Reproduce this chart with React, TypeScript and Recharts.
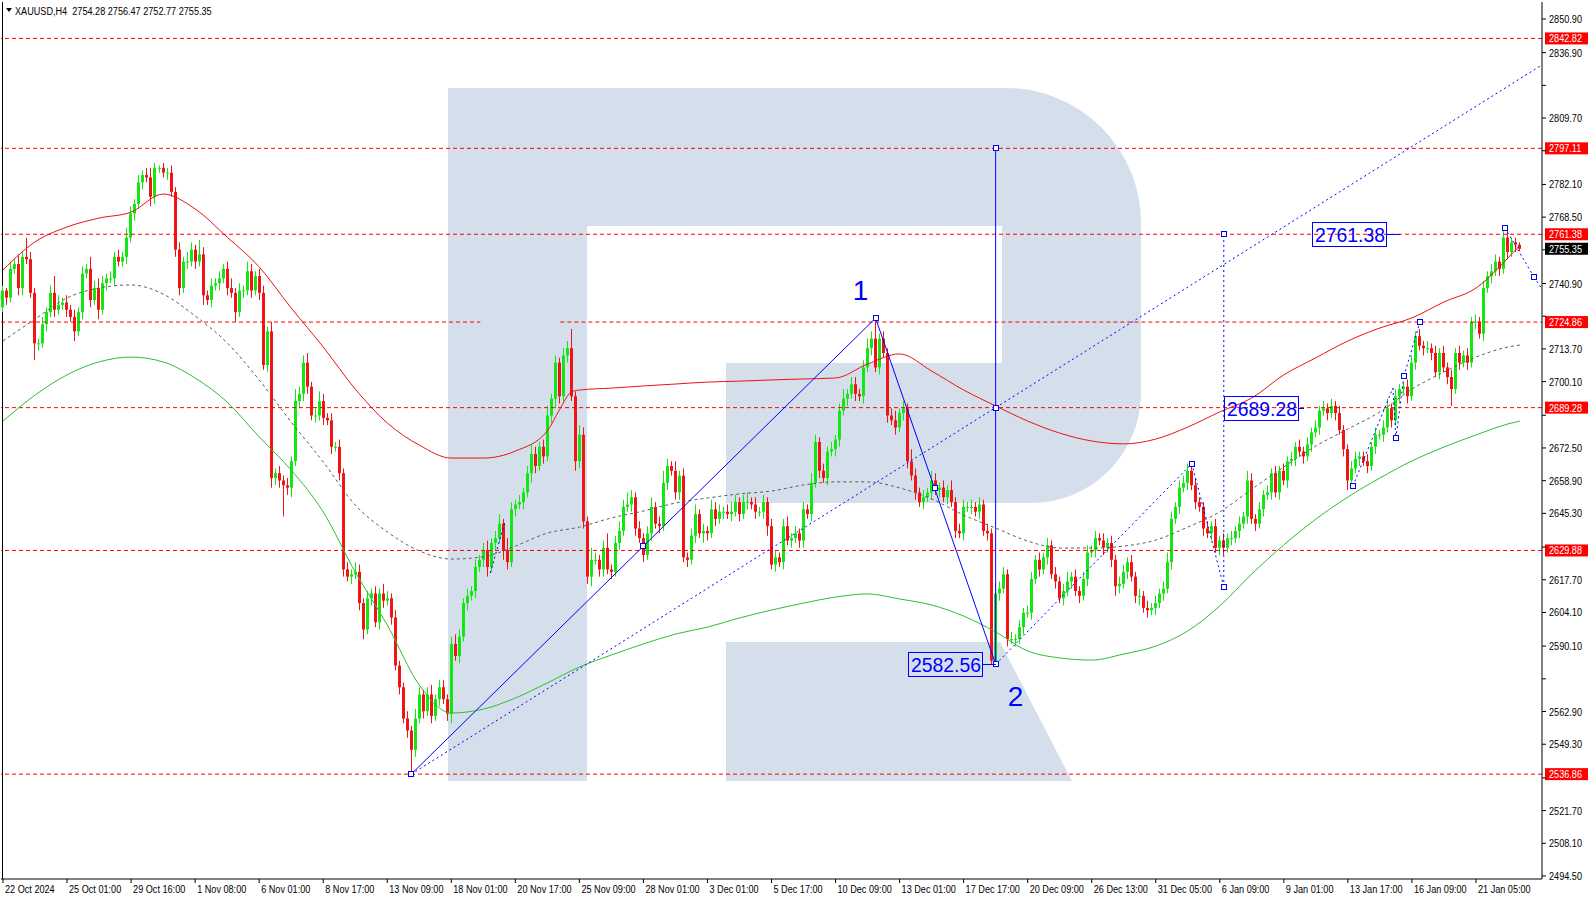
import React from 'react';
import { ComposedChart, Bar, Line, XAxis, YAxis, ReferenceLine, ReferenceDot } from 'recharts';

const FONT = "'Liberation Sans', Arial, sans-serif";
const SQUEEZE = 'scale(0.83,1)'; // the terminal font is narrower than Arial
const BLUE = '#0000ff';
const UP = '#14e614';
const DOWN = '#f01414';

// XAUUSD H4, 22 Oct 2024 .. 22 Jan 2025 — closes read candle by candle off the picture
const firstOpen = 2731;
const closes = [
  2738, 2735, 2747, 2749, 2739, 2752, 2751, 2737, 2716, 2716, 2724, 2729, 2737, 2730, 2732, 2733, 2730, 2727, 2721, 2729,
  2745, 2747, 2734, 2739, 2730, 2741, 2743, 2743, 2752, 2750, 2752, 2760, 2770, 2774, 2783, 2786, 2785, 2777, 2789, 2789,
  2787, 2787, 2779, 2755, 2739, 2750, 2750, 2755, 2750, 2753, 2736, 2734, 2740, 2741, 2743, 2747, 2739, 2737, 2729, 2738,
  2738, 2746, 2738, 2744, 2737, 2707, 2721, 2660, 2662, 2659, 2657, 2656, 2667, 2692, 2695, 2708, 2698, 2686, 2686, 2692,
  2685, 2684, 2673, 2673, 2662, 2622, 2619, 2620, 2621, 2608, 2597, 2610, 2612, 2600, 2612, 2609, 2610, 2602, 2582, 2573,
  2560, 2555, 2547, 2560, 2570, 2563, 2570, 2561, 2568, 2573, 2568, 2562, 2591, 2586, 2594, 2608, 2611, 2613, 2623, 2626,
  2630, 2623, 2633, 2635, 2641, 2630, 2625, 2647, 2649, 2650, 2654, 2662, 2670, 2665, 2673, 2669, 2686, 2693, 2708, 2694,
  2711, 2714, 2694, 2667, 2678, 2642, 2619, 2626, 2626, 2622, 2631, 2622, 2621, 2633, 2638, 2648, 2649, 2652, 2639, 2635,
  2628, 2637, 2648, 2641, 2640, 2658, 2665, 2663, 2654, 2661, 2627, 2626, 2636, 2645, 2637, 2638, 2637, 2647, 2643, 2646,
  2646, 2645, 2646, 2650, 2645, 2650, 2650, 2649, 2646, 2646, 2650, 2640, 2624, 2627, 2625, 2640, 2634, 2635, 2637, 2634,
  2647, 2645, 2658, 2675, 2663, 2660, 2671, 2672, 2676, 2688, 2693, 2695, 2699, 2695, 2694, 2706, 2714, 2718, 2706, 2718,
  2712, 2686, 2684, 2681, 2687, 2689, 2667, 2661, 2654, 2650, 2652, 2654, 2659, 2655, 2656, 2652, 2655, 2650, 2638, 2637,
  2648, 2648, 2648, 2646, 2649, 2638, 2637, 2584, 2612, 2614, 2620, 2593, 2593, 2593, 2598, 2604, 2604, 2618, 2626, 2622,
  2627, 2632, 2620, 2617, 2610, 2613, 2617, 2619, 2613, 2611, 2618, 2629, 2630, 2635, 2634, 2631, 2633, 2626, 2615, 2616,
  2621, 2625, 2619, 2611, 2611, 2606, 2605, 2606, 2608, 2612, 2614, 2625, 2643, 2648, 2656, 2658, 2663, 2657, 2650, 2648,
  2639, 2637, 2640, 2631, 2634, 2631, 2635, 2635, 2638, 2641, 2644, 2659, 2643, 2641, 2647, 2653, 2654, 2662, 2654, 2663,
  2659, 2667, 2668, 2673, 2671, 2669, 2674, 2679, 2681, 2688, 2689, 2687, 2690, 2687, 2680, 2672, 2659, 2664, 2668, 2669,
  2667, 2665, 2673, 2678, 2678, 2681, 2689, 2684, 2694, 2697, 2698, 2694, 2708, 2719, 2715, 2714, 2714, 2712, 2704, 2712,
  2706, 2702, 2697, 2712, 2708, 2711, 2708, 2725, 2725, 2720, 2739, 2744, 2746, 2750, 2747, 2760, 2754, 2758, 2757, 2755.35,
];
// wick lengths above / below the body, in dollars
const wickUp = [
  2, 1, 3, 2, 4, 2, 8, 3, 2, 2, 3, 2, 3, 7, 4, 2, 3, 2, 3, 2,
  3, 2, 5, 3, 4, 3, 2, 3, 2, 3, 2, 4, 3, 2, 3, 2, 3, 4, 2, 1,
  2, 2, 3, 2, 3, 2, 4, 3, 2, 6, 3, 2, 3, 2, 3, 2, 3, 4, 2, 3,
  2, 4, 3, 2, 3, 3, 2, 4, 2, 3, 2, 3, 2, 5, 3, 3, 4, 2, 3, 4,
  3, 2, 3, 2, 3, 2, 3, 2, 4, 3, 2, 3, 2, 3, 2, 4, 3, 2, 3, 2,
  2, 3, 2, 4, 3, 2, 3, 4, 2, 3, 3, 2, 3, 4, 3, 2, 3, 2, 3, 2,
  3, 4, 2, 3, 4, 2, 5, 3, 2, 3, 2, 3, 4, 3, 2, 3, 4, 2, 3, 2,
  3, 3, 8, 2, 4, 3, 2, 5, 3, 2, 3, 6, 2, 3, 4, 3, 5, 3, 2, 3,
  2, 3, 4, 2, 3, 5, 3, 2, 4, 2, 3, 2, 3, 4, 2, 3, 2, 4, 3, 3,
  2, 3, 4, 3, 2, 3, 4, 2, 3, 2, 3, 2, 3, 3, 2, 3, 4, 2, 3, 2,
  3, 2, 4, 3, 2, 3, 2, 3, 2, 3, 4, 2, 3, 3, 2, 3, 4, 3, 8, 2,
  3, 2, 3, 4, 2, 3, 2, 5, 3, 2, 3, 2, 4, 3, 2, 3, 2, 4, 2, 3,
  3, 2, 3, 2, 3, 2, 3, 2, 4, 3, 3, 2, 3, 2, 3, 2, 3, 3, 2, 3,
  2, 3, 2, 3, 2, 3, 4, 2, 3, 2, 3, 3, 2, 3, 2, 3, 2, 3, 2, 3,
  3, 2, 3, 2, 3, 2, 3, 2, 3, 2, 3, 4, 3, 2, 3, 3, 3, 2, 3, 2,
  2, 3, 2, 3, 2, 3, 2, 3, 2, 3, 2, 4, 3, 2, 3, 2, 3, 2, 3, 2,
  3, 2, 3, 2, 3, 2, 3, 2, 3, 2, 3, 2, 3, 2, 3, 2, 2, 3, 3, 2,
  2, 3, 2, 3, 2, 3, 4, 2, 3, 2, 2, 3, 3, 2, 3, 2, 3, 2, 3, 2,
  3, 2, 3, 2, 3, 2, 3, 2, 3, 2, 3, 2, 3, 3, 2, 4, 3, 2, 2, 1,
];
const wickDown = [
  2, 3, 2, 2, 3, 3, 2, 2, 7, 3, 2, 3, 2, 3, 2, 2, 3, 2, 4, 2,
  3, 2, 3, 2, 4, 2, 3, 2, 3, 2, 2, 3, 2, 3, 2, 3, 2, 4, 3, 2,
  2, 3, 2, 3, 3, 2, 3, 2, 3, 2, 4, 2, 3, 2, 3, 2, 3, 2, 4, 2,
  3, 2, 3, 2, 3, 2, 3, 4, 3, 3, 13, 3, 4, 2, 3, 3, 3, 2, 3, 2,
  3, 2, 3, 2, 3, 3, 2, 3, 2, 3, 4, 2, 3, 2, 3, 3, 2, 3, 2, 3,
  2, 3, 10, 3, 2, 3, 2, 3, 2, 3, 2, 3, 4, 2, 3, 2, 3, 2, 3, 2,
  3, 4, 2, 3, 2, 4, 3, 2, 3, 2, 3, 2, 4, 3, 2, 3, 2, 3, 4, 3,
  2, 3, 2, 4, 3, 3, 3, 4, 2, 3, 3, 2, 3, 2, 3, 2, 2, 3, 3, 2,
  3, 2, 3, 2, 3, 2, 3, 2, 3, 3, 2, 3, 2, 3, 2, 4, 3, 2, 3, 2,
  3, 2, 3, 2, 3, 2, 3, 2, 3, 2, 3, 4, 2, 3, 2, 3, 2, 3, 2, 3,
  3, 2, 3, 2, 3, 2, 3, 2, 3, 3, 2, 3, 2, 3, 2, 3, 2, 3, 2, 3,
  2, 3, 2, 3, 2, 3, 3, 2, 3, 2, 3, 2, 3, 2, 3, 2, 3, 2, 3, 2,
  3, 2, 3, 2, 3, 2, 3, 1.5, 2, 3, 2, 3, 2, 3, 2, 3, 2, 3, 2, 3,
  2, 3, 2, 3, 2, 3, 2, 3, 2, 3, 2, 3, 2, 3, 2, 3, 2, 3, 4, 3,
  2, 3, 2, 3, 4, 2, 3, 2, 3, 2, 3, 2, 3, 2, 3, 2, 3, 2, 3, 2,
  3, 2, 3, 2, 3, 3, 2, 3, 2, 3, 2, 3, 2, 3, 2, 3, 2, 3, 2, 3,
  2, 3, 2, 3, 2, 3, 2, 3, 2, 3, 2, 3, 2, 3, 2, 3, 4, 3, 2, 3,
  2, 3, 2, 3, 2, 3, 2, 3, 2, 3, 2, 3, 2, 3, 2, 3, 2, 3, 2, 3,
  2, 3, 7, 2, 3, 2, 3, 2, 3, 2, 3, 2, 3, 2, 3, 2, 3, 2, 3, 1,
];

// moving averages, sampled every 8 candles
const maIdx = [0, 8, 16, 24, 32, 40, 48, 56, 64, 72, 80, 88, 96, 104, 112, 120, 128, 136, 144, 152, 160, 168, 176, 184, 192,
  200, 208, 216, 224, 232, 240, 248, 256, 264, 272, 280, 288, 296, 304, 312, 320, 328, 336, 344, 352, 360, 368, 376, 379];
const grayMA = [2717.0, 2726.1, 2734.9, 2739.0, 2740.3, 2736.5, 2727.4, 2716.2, 2700.8, 2683.3, 2666.7, 2648.8, 2637.6,
  2629.7, 2626.3, 2627.2, 2631.7, 2637.1, 2639.6, 2643.4, 2646.3, 2649.6, 2651.7, 2653.4, 2654.6, 2657.1, 2658.4, 2658.4,
  2655.9, 2651.3, 2644.6, 2639.2, 2633.8, 2630.9, 2630.9, 2631.7, 2634.2, 2639.6, 2645.9, 2655.4, 2664.6, 2673.3, 2680.4,
  2687.5, 2697.0, 2704.1, 2710.3, 2714.5, 2715.3];
const greenMA = [2683.7, 2694.5, 2702.9, 2708.3, 2710.3, 2708.3, 2701.6, 2691.6, 2677.1, 2663.3, 2645.9, 2620.9, 2598.9,
  2573.9, 2562.3, 2563.9, 2568.5, 2574.8, 2581.4, 2586.4, 2591.0, 2595.1, 2598.0, 2601.8, 2605.1, 2608.0, 2610.5, 2611.8,
  2609.7, 2607.2, 2602.6, 2596.0, 2588.1, 2585.2, 2584.3, 2586.8, 2590.1, 2596.4, 2606.8, 2620.1, 2632.2, 2642.9, 2652.1,
  2660.0, 2667.1, 2672.9, 2677.9, 2682.5, 2683.7];
const redIdx = [0, 8, 16, 24, 32, 40, 48, 56, 64, 72, 80, 88, 96, 104, 112, 120, 128, 136, 139, 142, 144, 152, 160, 168, 176,
  184, 192, 200, 208, 216, 224, 232, 240, 248, 256, 264, 272, 280, 288, 296, 304, 312, 320, 328, 336, 344, 352, 360, 368, 376, 379];
const redMA = [2746.5, 2758.2, 2764.4, 2768.1, 2770.6, 2778.1, 2771.9, 2760.2, 2747.8, 2730.7, 2714.5, 2697.0, 2682.9,
  2673.7, 2668.3, 2668.3, 2671.2, 2679.6, 2688.3, 2695.8, 2696.6, 2697.4, 2698.3, 2699.1, 2699.9, 2700.3, 2700.8, 2701.2,
  2701.6, 2707.4, 2711.6, 2704.5, 2696.6, 2690.0, 2683.7, 2678.7, 2675.4, 2674.2, 2676.2, 2681.2, 2687.5, 2693.3, 2702.9,
  2710.0, 2717.0, 2722.4, 2726.6, 2733.2, 2739.0, 2751.5, 2756.9];

const dateLabels = ['22 Oct 2024', '25 Oct 01:00', '29 Oct 16:00', '1 Nov 08:00', '6 Nov 01:00', '8 Nov 17:00',
  '13 Nov 09:00', '18 Nov 01:00', '20 Nov 17:00', '25 Nov 09:00', '28 Nov 01:00', '3 Dec 01:00', '5 Dec 17:00',
  '10 Dec 09:00', '13 Dec 01:00', '17 Dec 17:00', '20 Dec 09:00', '26 Dec 13:00', '31 Dec 05:00', '6 Jan 09:00',
  '9 Jan 01:00', '13 Jan 17:00', '16 Jan 09:00', '21 Jan 05:00'];
const LABEL_STEP = 16;
const xTicks = dateLabels.map((_, k) => k * LABEL_STEP);

const yTicks = [2494.5, 2508.1, 2521.7, 2535.3, 2549.3, 2562.9, 2576.5, 2590.1, 2604.1, 2617.7, 2631.3, 2645.3, 2658.9,
  2672.5, 2686.1, 2700.1, 2713.7, 2727.3, 2740.9, 2754.9, 2768.5, 2782.1, 2796.1, 2809.7, 2823.3, 2836.9, 2850.9];
const coveredTicks = [2535.3, 2576.5, 2631.3, 2686.1, 2727.3, 2754.9, 2796.1, 2823.3];

const levels = [2842.82, 2797.11, 2761.38, 2689.28, 2629.88, 2536.86];
const splitLevel = 2724.86;
const lastPrice = 2755.35;

// wave markup (candle index, price)
const waveSolid: number[][] = [[102, 2536.86], [218, 2726.5], [248, 2582.56], [248, 2797.11]];
const trendDotted: number[][] = [[102, 2536.86], [384.5, 2831.8]];
const zigzag1: number[][] = [[248, 2582.56], [297, 2666], [305, 2614.7], [305, 2761.38]];
const zigzag2: number[][] = [[337.25, 2656.7], [347.25, 2697.4], [348, 2676.6], [350, 2702.4], [354, 2724.86]];
const zigzag3: number[][] = [[375.25, 2764], [382.5, 2743.6], [384.5, 2738.6]];
const smallDash: number[][] = [[121.75, 2620.5], [125.5, 2642.5]];
const markers: number[][] = [[102, 2536.86], [218, 2726.5], [248, 2582.56], [248, 2797.11], [248, 2689.28],
  [160, 2631.7], [232.75, 2655.7], [297, 2666], [305, 2614.7], [305, 2761.38], [337.25, 2656.7], [348, 2676.6],
  [350, 2702.4], [354, 2724.86], [375.25, 2764], [382.5, 2743.6]];
const priceBoxes = [
  { text: '2582.56', i: 248, p: 2582.56, side: 'left' },
  { text: '2761.38', i: 349, p: 2761.38, side: 'left' },
  { text: '2689.28', i: 305, p: 2689.28, side: 'right' },
];
const waveNames = [
  { text: '1', i: 218, p: 2726.5, dx: -15, dy: -18 },
  { text: '2', i: 248, p: 2582.56, dx: 20, dy: 42 },
];

const TOTAL_SLOTS = 385;
const rows: any[] = Array.from({ length: TOTAL_SLOTS }, (_, i) => {
  const row: any = { i };
  if (i < closes.length) {
    const open = i === 0 ? firstOpen : closes[i - 1];
    const close = closes[i];
    const high = Math.max(open, close) + wickUp[i];
    const low = Math.min(open, close) - wickDown[i];
    Object.assign(row, { open, close, high, low, range: [low, high] });
  }
  return row;
});
maIdx.forEach((idx, k) => { rows[idx].gray = grayMA[k]; rows[idx].green = greenMA[k]; });
redIdx.forEach((idx, k) => { rows[idx].red = redMA[k]; });

const Candle = (props: any) => {
  const { x, y, width, height, payload } = props;
  if (!payload || payload.high == null || height == null) return null;
  const top = Math.min(y, y + height);
  const h = Math.abs(height);
  const k = h / (payload.high - payload.low);
  const py = (v: number) => top + (payload.high - v) * k;
  const cx = Math.floor(x + width / 2);
  const color = payload.close >= payload.open ? UP : DOWN;
  const y1 = py(Math.max(payload.open, payload.close));
  const y2 = py(Math.min(payload.open, payload.close));
  return (
    <g>
      <line x1={cx + 0.5} x2={cx + 0.5} y1={top} y2={top + h} stroke={color} strokeWidth={1} />
      <rect x={cx - 1} y={y1} width={3} height={Math.max(1, y2 - y1)} fill={color} />
    </g>
  );
};

const SmallText = ({ x, y, fill = '#000', children }: any) => (
  <text transform={`translate(${x},${y}) ${SQUEEZE}`} fontSize={11} fontFamily={FONT} fill={fill}
    style={{ whiteSpace: 'pre' }}>
    {children}
  </text>
);

const XTick = ({ x, y, payload }: any) => (
  <SmallText x={x + 2} y={y + 8}>{dateLabels[Math.round(payload.value / LABEL_STEP)]}</SmallText>
);

const YTick = ({ x, y, payload }: any) => {
  if (coveredTicks.includes(payload.value)) return null;
  return <SmallText x={x} y={y + 4}>{payload.value.toFixed(2)}</SmallText>;
};

const PriceTag = ({ viewBox, value, fill }: any) => {
  if (!viewBox) return null;
  const x = viewBox.x + viewBox.width;
  const y = viewBox.y;
  return (
    <g>
      <rect x={x + 3} y={y - 6} width={43} height={12} fill={fill} />
      <SmallText x={x + 7} y={y + 4} fill="#fff">{value}</SmallText>
    </g>
  );
};

const Square = ({ cx, cy }: any) => (
  <rect x={Math.round(cx) - 2.5} y={Math.round(cy) - 2.5} width={5} height={5} fill="#fff" stroke={BLUE} strokeWidth={1} />
);

const segments = (pts: number[][]) => pts.slice(1).map((p, k) => [pts[k], p]);

export default function App() {
  const lines = (pts: number[][], dash: string | undefined, key: string) =>
    segments(pts).map(([a, b], k) => (
      <ReferenceLine key={key + k} xAxisId="n" segment={[{ x: a[0], y: a[1] }, { x: b[0], y: b[1] }]}
        stroke={BLUE} strokeWidth={1} strokeDasharray={dash} />
    ));

  return (
    <div style={{ position: 'fixed', left: 0, top: 0, width: 1590, height: 900, background: '#fff', overflow: 'hidden' }}>
      <svg width={1590} height={900} style={{ position: 'absolute', left: 0, top: 0 }}>
        <g fill="#d5dfeb">
          <rect x={448} y={88} width={139} height={693} />
          <rect x={448} y={88} width={554} height={138} />
          <path d="M 726 363 H 1002 V 88 H 1006 A 135 135 0 0 1 1141 223 V 393 A 110 110 0 0 1 1031 503 H 726 Z" />
          <path d="M 726 642 H 1000 L 1072 781 H 726 Z" />
        </g>
        <line x1={2.5} x2={2.5} y1={2} y2={879} stroke="#000" />
        <path d="M 6 8 H 12 L 9 12 Z" fill="#000" />
        <SmallText x={15} y={15}>{'XAUUSD,H4  2754.28 2756.47 2752.77 2755.35'}</SmallText>
      </svg>
      <div style={{ position: 'absolute', left: 0, top: 0 }}>
        <ComposedChart width={1590} height={900} data={rows} margin={{ top: 2, right: 0, bottom: 0, left: 1 }}>
          <XAxis dataKey="i" type="category" ticks={xTicks} interval={0} height={21} tick={<XTick />}
            tickSize={4} tickMargin={2} axisLine={{ stroke: '#000' }} tickLine={{ stroke: '#000' }} />
          <XAxis xAxisId="n" dataKey="i" type="number" domain={[-0.5, 384.5]} allowDataOverflow hide />
          <YAxis orientation="right" width={48} domain={[2493.25, 2857.97]} allowDataOverflow ticks={yTicks}
            interval={0} tick={<YTick />} tickSize={4} tickMargin={3} axisLine={{ stroke: '#000' }}
            tickLine={{ stroke: '#000' }} />

          {levels.map((lv) => (
            <ReferenceLine key={lv} y={lv} stroke="#ff0000" strokeDasharray="4 3"
              label={<PriceTag value={lv.toFixed(2)} fill="#ff0000" />} />
          ))}
          <ReferenceLine xAxisId="n" segment={[{ x: -0.5, y: splitLevel }, { x: 119.25, y: splitLevel }]}
            stroke="#ff0000" strokeDasharray="4 3" />
          <ReferenceLine xAxisId="n" segment={[{ x: 139.25, y: splitLevel }, { x: 384.5, y: splitLevel }]}
            stroke="#ff0000" strokeDasharray="4 3"
            label={<PriceTag value={splitLevel.toFixed(2)} fill="#ff0000" />} />
          <ReferenceLine y={lastPrice} stroke="none" label={<PriceTag value={lastPrice.toFixed(2)} fill="#000" />} />

          <Bar dataKey="range" isAnimationActive={false} shape={(p: any) => <Candle {...p} />} />
          <Line dataKey="red" type="monotone" stroke="#ee1111" strokeWidth={1} dot={false} connectNulls isAnimationActive={false} />
          <Line dataKey="gray" type="monotone" stroke="#5c5c5c" strokeWidth={1} strokeDasharray="3 3" dot={false} connectNulls isAnimationActive={false} />
          <Line dataKey="green" type="monotone" stroke="#2cbf2c" strokeWidth={1} dot={false} connectNulls isAnimationActive={false} />

          {lines(waveSolid, undefined, 'ws')}
          {lines(trendDotted, '2 3', 'td')}
          {lines(zigzag1, '2 3', 'z1')}
          {lines(zigzag2, '2 3', 'z2')}
          {lines(zigzag3, '2 3', 'z3')}
          {lines(smallDash, '2 3', 'sd')}

          {markers.map(([i, p], k) => (
            <ReferenceDot key={'m' + k} xAxisId="n" x={i} y={p} shape={(s: any) => <Square {...s} />} />
          ))}
          {priceBoxes.map((b) => (
            <ReferenceDot key={b.text} xAxisId="n" x={b.i} y={b.p}
              shape={(s: any) => {
                const cx = Math.round(s.cx);
                const cy = Math.round(s.cy);
                const bx = b.side === 'left' ? cx - 88 : cx;
                const conn = b.side === 'left' ? [cx - 13, cx] : [cx + 74, cx + 80];
                return (
                  <g>
                    <line x1={conn[0]} x2={conn[1]} y1={cy + 0.5} y2={cy + 0.5} stroke={BLUE} />
                    <rect x={bx + 0.5} y={cy - 11.5} width={74} height={24} fill="none" stroke={BLUE} />
                    <text x={bx + 38} y={cy + 8} textAnchor="middle" fontSize={20} fontFamily={FONT}
                      fill={BLUE} textLength={70} lengthAdjust="spacingAndGlyphs">{b.text}</text>
                  </g>
                );
              }} />
          ))}
          {waveNames.map((w) => (
            <ReferenceDot key={'w' + w.text} xAxisId="n" x={w.i} y={w.p}
              shape={(s: any) => (
                <text x={s.cx + w.dx} y={s.cy + w.dy} textAnchor="middle" fontSize={28}
                  fontFamily={FONT} fill={BLUE}>{w.text}</text>
              )} />
          ))}
        </ComposedChart>
      </div>
    </div>
  );
}
